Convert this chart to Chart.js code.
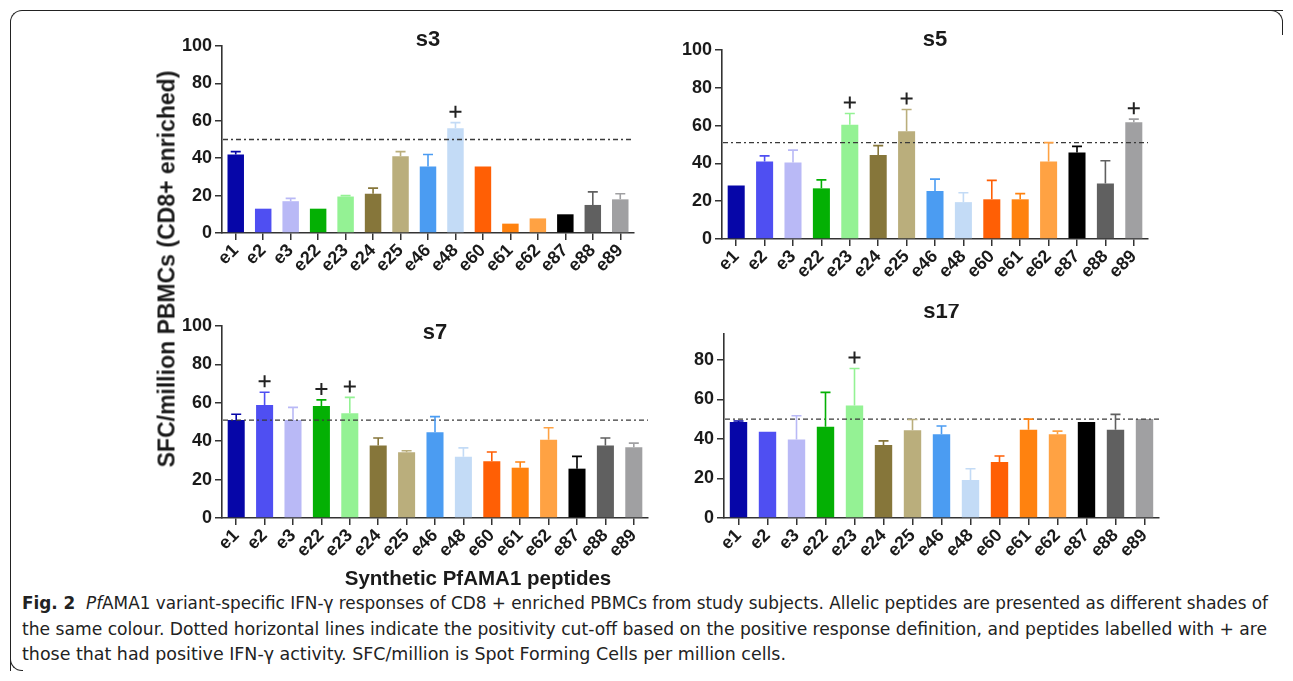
<!DOCTYPE html>
<html>
<head>
<meta charset="utf-8">
<script src="https://cdn.jsdelivr.net/npm/chart.js@4.4.1/dist/chart.umd.min.js"></script>
<style>
body { margin: 0; background: #fff; width: 1293px; height: 681px; overflow: hidden; position: relative; font-family: "Liberation Sans", Arial, sans-serif; color: #1a1a1a; }
.panel { position: absolute; }
.frame-top { position: absolute; left: 10px; top: 10px; width: 1272px; height: 660px; border-top: 1.2px solid #222; border-left: 1.2px solid #222; border-top-left-radius: 12px; }
.frame-tr { position: absolute; left: 1270px; top: 10px; width: 12px; height: 24px; border-top: 1.2px solid #222; border-right: 1.2px solid #222; border-top-right-radius: 12px; }
.frame-bl { position: absolute; left: 10px; top: 656px; width: 12px; height: 14px; border-bottom: 1.2px solid #222; border-left: 1.2px solid #222; border-bottom-left-radius: 12px; }
#ylab { position: absolute; left: 167px; top: 269px; transform: translate(-50%, -50%) rotate(-90deg); font-weight: bold; font-size: 23px; white-space: nowrap; color: #1a1a1a; }
#xlab { position: absolute; left: 478px; top: 578px; transform: translate(-50%, -50%); font-weight: bold; font-size: 20.5px; white-space: nowrap; color: #1a1a1a; }
.cap { position: absolute; left: 22px; font-family: "Liberation Sans Narrow", "DejaVu Sans Condensed", "Liberation Sans", Arial, sans-serif; font-size: 18px; white-space: nowrap; transform-origin: 0 50%; color: #222; }
</style>
</head>
<body>
<div class="frame-top"></div>
<div class="frame-tr"></div>
<div class="frame-bl"></div>

<div class="panel" id="p0"><canvas id="c0"></canvas></div>
<div class="panel" id="p1"><canvas id="c1"></canvas></div>
<div class="panel" id="p2"><canvas id="c2"></canvas></div>
<div class="panel" id="p3"><canvas id="c3"></canvas></div>

<div id="ylab">SFC/million PBMCs (CD8+ enriched)</div>
<div id="xlab">Synthetic PfAMA1 peptides</div>

<div class="cap" id="cap1" data-w="1246" style="top:592px"><b>Fig. 2</b>&nbsp; <i>Pf</i>AMA1 variant-specific IFN-γ responses of CD8 + enriched PBMCs from study subjects. Allelic peptides are presented as different shades of</div>
<div class="cap" id="cap2" data-w="1245" style="top:618px">the same colour. Dotted horizontal lines indicate the positivity cut-off based on the positive response definition, and peptides labelled with + are</div>
<div class="cap" id="cap3" data-w="764" style="top:643px">those that had positive IFN-γ activity. SFC/million is Spot Forming Cells per million cells.</div>

<script>
const peptides = ['e1', 'e2', 'e3', 'e22', 'e23', 'e24', 'e25', 'e46', 'e48', 'e60', 'e61', 'e62', 'e87', 'e88', 'e89'];
const barColors = ['#0606a8', '#4f4ff2', '#b9b9f6', '#04b004', '#94f294', '#86763a', '#baae7c', '#4b9cf2', '#c3dbf6', '#ff5f05', '#ff820f', '#ffa243', '#000000', '#606060', '#a0a0a2'];

// mean values and upper error (SEM) per subject
const s3Mean = [42, 13, 17, 13, 19.5, 21, 41, 35.5, 56, 35.5, 5, 7.8, 10, 15, 18];
const s3Err = [1.5, 0, 1.5, 0, 0.5, 3, 2.5, 6.5, 3, 0, 0, 0, 0, 7, 3];
const s5Mean = [28.3, 41, 40.5, 26.8, 60.4, 44.4, 57, 25.4, 19.5, 21, 21, 41, 45.8, 29.4, 61.8];
const s5Err = [0, 3, 6.5, 4.5, 6, 5, 11.5, 6.3, 5, 10, 3, 10, 3.2, 12, 1.6];
const s7Mean = [51, 58.9, 51, 58.3, 54.5, 37.8, 34.2, 44.6, 31.9, 29.5, 26.2, 40.8, 25.7, 37.7, 36.8];
const s7Err = [3, 6.6, 6.6, 3.2, 8.3, 3.9, 0.8, 8.2, 4.6, 4.9, 3, 6.2, 6.4, 4, 2.2];
const s17Mean = [48.5, 43.6, 39.7, 46.1, 56.9, 36.9, 44.4, 42.3, 19.2, 28.3, 44.6, 42.3, 48.5, 44.6, 50];
const s17Err = [0.5, 0, 12, 17.4, 18.7, 2.1, 5.4, 4.2, 5.7, 3, 5.4, 1.6, 0, 7.8, 0];

const cutoffs = [50, 51, 51, 50];
const positives = [['e48'], ['e23', 'e25', 'e89'], ['e2', 'e22', 'e23'], ['e23']];
const titles = ['s3', 's5', 's7', 's17'];
const yMax = [100, 100, 100, 93];
const yTicks = [0, 20, 40, 60, 80, 100];

const means = [s3Mean, s5Mean, s7Mean, s17Mean];
const errs = [s3Err, s5Err, s7Err, s17Err];

// target plot areas (page px) and title centre y
const areas = [
  { left: 222, right: 634, top: 46, bottom: 233, titleY: 40 },
  { left: 722, right: 1148, top: 50, bottom: 239, titleY: 40 },
  { left: 222, right: 648, top: 326, bottom: 518, titleY: 333 },
  { left: 724, right: 1159, top: 334, bottom: 518, titleY: 312 }
];

const YW = 60, XH = 56, PT = 30, PR = 14;
const AX = '#333';

const overlay = {
  id: 'overlay',
  afterDatasetsDraw(chart, args, opts) {
    const { ctx, chartArea: a, scales: { x, y } } = chart;
    const i = opts.idx;
    ctx.save();
    // cut-off line
    ctx.strokeStyle = '#3a3a3a';
    ctx.lineWidth = 1.4;
    ctx.setLineDash([5, 3, 2, 3]);
    const cy = y.getPixelForValue(cutoffs[i]);
    ctx.beginPath(); ctx.moveTo(a.left + 1, cy); ctx.lineTo(a.right, cy); ctx.stroke();
    ctx.setLineDash([]);
    // error bars
    means[i].forEach((m, k) => {
      const e = errs[i][k];
      const px = x.getPixelForValue(k);
      const y0 = y.getPixelForValue(m), y1 = y.getPixelForValue(m + e);
      if (e > 0.3) {
        ctx.strokeStyle = barColors[k];
        ctx.lineWidth = 1.6;
        ctx.beginPath();
        ctx.moveTo(px, y0); ctx.lineTo(px, y1);
        ctx.moveTo(px - 5, y1); ctx.lineTo(px + 5, y1);
        ctx.stroke();
      }
      if (positives[i].includes(peptides[k])) {
        const py = y1 - 11;
        ctx.strokeStyle = '#222';
        ctx.lineWidth = 2;
        ctx.beginPath();
        ctx.moveTo(px - 6, py); ctx.lineTo(px + 6, py);
        ctx.moveTo(px, py - 6); ctx.lineTo(px, py + 6);
        ctx.stroke();
      }
    });
    // title
    ctx.fillStyle = '#1a1a1a';
    ctx.font = 'bold 22px "Liberation Sans", Arial, sans-serif';
    ctx.textAlign = 'center';
    ctx.textBaseline = 'middle';
    ctx.fillText(titles[i], (a.left + a.right) / 2, opts.titleY);
    ctx.restore();
  }
};

areas.forEach((ar, i) => {
  const w = YW + (ar.right - ar.left) + PR;
  const h = PT + (ar.bottom - ar.top) + XH;
  const left = ar.left - YW, top = ar.top - PT;
  const box = document.getElementById('p' + i);
  box.style.left = left + 'px';
  box.style.top = top + 'px';
  box.style.width = w + 'px';
  box.style.height = h + 'px';

  new Chart(document.getElementById('c' + i), {
    type: 'bar',
    data: {
      labels: peptides,
      datasets: [{
        data: means[i],
        backgroundColor: barColors,
        borderWidth: 0,
        barPercentage: 0.6,
        categoryPercentage: 1
      }]
    },
    options: {
      responsive: true,
      maintainAspectRatio: false,
      animation: false,
      layout: { padding: { top: PT, right: PR, left: 0, bottom: 0 } },
      plugins: {
        legend: { display: false },
        tooltip: { enabled: false },
        overlay: { idx: i, titleY: ar.titleY - top }
      },
      scales: {
        x: {
          afterFit: s => { s.height = XH; },
          grid: { offset: false, drawOnChartArea: false, drawTicks: true, tickLength: 7, color: AX, lineWidth: 1.5 },
          border: { display: true, color: AX, width: 1.6 },
          ticks: {
            color: '#1a1a1a', maxRotation: 45, minRotation: 45, autoSkip: false, padding: 0,
            font: { family: '"Liberation Sans", Arial, sans-serif', size: 18, weight: 'bold' }
          }
        },
        y: {
          min: 0, max: yMax[i],
          afterFit: s => { s.width = YW; },
          afterBuildTicks: s => { s.ticks = yTicks.filter(t => t <= yMax[i]).map(v => ({ value: v })); },
          grid: { drawOnChartArea: false, drawTicks: true, tickLength: 7, color: AX, lineWidth: 1.5 },
          border: { display: true, color: AX, width: 1.6 },
          ticks: {
            color: '#1a1a1a', padding: 3,
            font: { family: '"Liberation Sans", Arial, sans-serif', size: 18, weight: 'bold' }
          }
        }
      }
    },
    plugins: [overlay]
  });
});

// fit caption lines to their widths
document.querySelectorAll('.cap').forEach(el => {
  const target = +el.dataset.w;
  const wNow = el.getBoundingClientRect().width;
  el.style.transform = 'scaleX(' + (target / wNow) + ')';
});
</script>
</body>
</html>
